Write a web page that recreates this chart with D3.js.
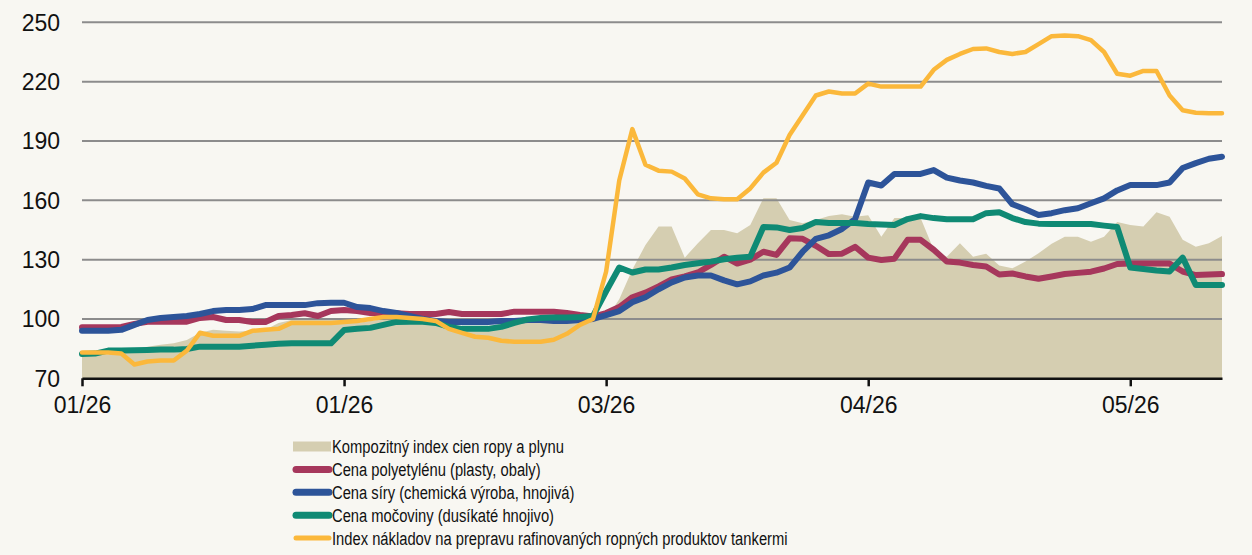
<!DOCTYPE html>
<html><head><meta charset="utf-8">
<script src="https://cdn.jsdelivr.net/npm/d3@7"></script>
<style>
html,body{margin:0;padding:0;background:#f8f7f2;}
svg{display:block;}
text{font-family:"Liberation Sans",Arial,sans-serif;fill:#111;}
</style></head><body>
<svg id="chart" width="1252" height="555"></svg>
<script>
const tickIndex = [0, 20, 40, 60, 80];
const tickLabels = ["01/26", "01/26", "03/26", "04/26", "05/26"];
const yTicks = [70, 100, 130, 160, 190, 220, 250];

const composite = [82,82,82,83,84.5,86,87,87.7,89.4,93,94.5,94,93.6,94,94.5,98,99.5,99.5,99.5,100,
  99.5,98,99,100,100,99,98.5,97.5,96.5,96,96,96.5,97.5,98.5,99,99,99,99,99,99.5,
  100,110,125,137.4,146.7,146.7,131,138.3,145,145,143.3,147.5,161,161,150,148.4,150,152,153,151.7,
  152.5,141.6,151,151,151,135,131.5,138.3,131.5,133,127,125.6,129,133.2,138,141.6,141.6,139.1,141.6,149,
  147.5,146.7,154,151.7,140,136.5,138.3,142];

const polyethylene = [95.8,95.8,95.8,96,97.5,98.6,98.6,98.6,98.6,100.5,101,99.5,99.5,98.5,98.5,101.5,102,102.9,101.5,104,
  104.5,104,103,102.9,102.9,102.5,102.5,102.5,103.5,102.5,102.5,102.5,102.5,103.7,103.7,103.7,103.7,103,102,101.2,
  103,106,111,113.3,116.5,120,121.5,123.5,127.3,131.5,128,130,134,132.4,140.8,140.5,137,132.8,133,136.5,
  131,129.8,130.5,140,140,135,129,128.5,127.3,126.5,122.5,123,121.5,120.3,121.5,122.7,123.3,123.9,125.5,127.8,
  128.1,128,128,128,124,122.2,122.5,122.7];

const sulfur = [94,94,94,94.5,97,99.5,100.5,101,101.5,102.5,104,104.5,104.5,105,107,107,107,107,108,108.2,
  108.2,106,105.5,104,103,101.5,100,99,98.5,98.5,98.5,98.5,99,99,99.5,99.5,99,99,99.5,100,
  102,104,108.5,111,115,118.5,121,122,122,119.5,117.5,119,122,123.4,126,134,140.5,142.3,145.5,150.5,
  169,167.5,173.3,173.3,173.3,175.3,171.5,170,169,167.3,166,158,155.5,152.6,153.5,155,156,158.5,161,165,
  167.7,167.7,167.7,169,176.3,178.8,181,182];

const urea = [82.3,82.5,84,84,84.2,84.3,84.5,84.5,84.8,86,86,86,86,86.5,87,87.5,87.7,87.7,87.7,87.7,
  94.4,95,95.5,97,98.5,98.6,98.6,98,96,95,95,95,96,98,99.8,100.5,100.8,100.8,101,101.5,
  114,126,123.5,125,125,126,127.3,128.2,129,130.2,131,131.5,146.5,146.3,145,146,149,148.5,148.5,148.5,
  148,147.8,147.5,150.5,152,151,150.4,150.4,150.4,153.5,154,151,149,148.2,148,148,148,148,147.2,146.5,
  126,125.3,124.5,124,131,117.2,117.2,117.2];

const tanker = [83,83,83,82.5,77,78.5,79,79,84,93,91.5,91.5,91.5,94,94.5,95,98,98,98,98,
  98.5,99,100,101,101,100.5,100,99,95,93,91,90.5,89,88.5,88.5,88.5,89.5,92.5,97,100,
  124,170,196,178,175,174.5,171,163,161,160.5,160.5,166,174,179,193,203,213,215,214,214,
  219,217.5,217.5,217.5,217.5,226,231,234,236.5,236.8,235,234,235,239,243,243.3,243,241,235,224,
  223,225.4,225.4,213,205.5,204.3,204,204];

const seriesNames = [
  "Kompozitný index cien ropy a plynu",
  "Cena polyetylénu (plasty, obaly)",
  "Cena síry (chemická výroba, hnojivá)",
  "Cena močoviny (dusíkaté hnojivo)",
  "Index nákladov na prepravu rafinovaných ropných produktov tankermi"
];
const seriesColors = ["#d5ceb1", "#a6375c", "#2d5499", "#0f8a74", "#fbb83b"];

const svg = d3.select("#chart");
const x = d3.scaleLinear().domain([0, composite.length - 1]).range([82, 1222]);
const y = d3.scaleLinear().domain([70, 250]).range([378.3, 22.3]);

// area
svg.append("path")
  .datum(composite)
  .attr("fill", seriesColors[0])
  .attr("d", d3.area().x((d, i) => x(i)).y0(y(70)).y1(d => y(d)));

// gridlines
svg.append("g").selectAll("line")
  .data(yTicks.filter(t => t > 70))
  .join("line")
  .attr("x1", x(0)).attr("x2", x(composite.length - 1))
  .attr("y1", d => y(d)).attr("y2", d => y(d))
  .attr("stroke", "#8c8c8c").attr("stroke-width", 2);

// y labels
svg.append("g").selectAll("text")
  .data(yTicks)
  .join("text")
  .attr("x", 60).attr("y", d => y(d))
  .attr("dy", "0.36em")
  .attr("text-anchor", "end")
  .attr("font-size", 23)
  .text(d => d);

// x axis
const xAxis = d3.axisBottom(x)
  .tickValues(tickIndex)
  .tickFormat((d, i) => tickLabels[i])
  .tickSize(8)
  .tickPadding(10)
  .tickSizeOuter(0);
const gx = svg.append("g").attr("transform", `translate(0,${y(70)})`).call(xAxis);
gx.select(".domain").attr("stroke", "#111").attr("stroke-width", 2.5);
gx.selectAll(".tick line").attr("stroke", "#111").attr("stroke-width", 2.5);
gx.selectAll(".tick text").attr("font-size", 23).attr("font-family", "Liberation Sans, Arial, sans-serif").attr("fill", "#111");

// lines
const lineGen = d3.line().x((d, i) => x(i)).y(d => y(d));
const lineSeries = [polyethylene, sulfur, urea, tanker];
const widths = [6, 6, 6, 4.5];
lineSeries.forEach((s, k) => {
  svg.append("path")
    .datum(s)
    .attr("fill", "none")
    .attr("stroke", seriesColors[k + 1])
    .attr("stroke-width", widths[k])
    .attr("stroke-linejoin", "round")
    .attr("stroke-linecap", "round")
    .attr("d", lineGen);
});

// legend
const legend = svg.append("g");
const rowY = d3.scaleLinear().domain([0, 4]).range([446.5, 538]);
seriesNames.forEach((name, k) => {
  const cy = rowY(k);
  if (k === 0) {
    legend.append("rect").attr("x", 293).attr("y", cy - 5).attr("width", 38).attr("height", 10)
      .attr("fill", seriesColors[0]);
  } else {
    legend.append("line").attr("x1", 296).attr("x2", 329).attr("y1", cy).attr("y2", cy)
      .attr("stroke", seriesColors[k]).attr("stroke-width", k === 4 ? 5 : 7)
      .attr("stroke-linecap", "round");
  }
  legend.append("text")
    .attr("transform", `translate(332,${cy}) scale(0.776,1)`)
    .attr("dy", "0.36em")
    .attr("font-size", 19)
    .text(name);
});
</script>
</body></html>
